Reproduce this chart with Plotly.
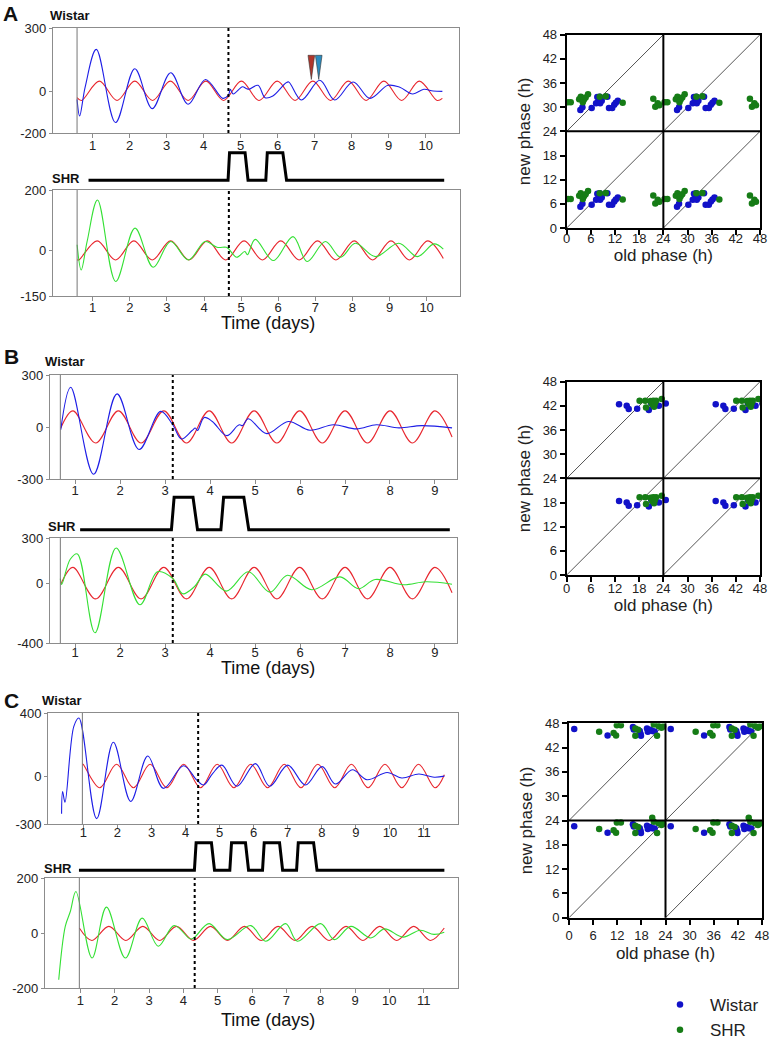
import plotly.graph_objects as go

W, H = 772, 1041
FONT = "Liberation Sans, Arial, sans-serif"
GRAY = "#8c8c8c"
BLUE_TR = "#1e1ee6"
GREEN_TR = "#34e034"
RED_FIT = "#e8262e"
WIS_DOT = "#1212c8"
SHR_DOT = "#167c16"

# ---------------- Panel A: time series ----------------
A_wis_t = [0.58, 0.65, 0.80, 1.10, 1.62, 2.14, 2.61, 3.11, 3.58, 4.05, 4.52, 4.67, 4.72, 4.80,
           5.05, 5.15, 5.22, 5.47, 5.66, 5.87, 6.22, 6.30, 6.64, 7.14, 7.54, 8.04, 8.49, 8.98,
           9.30, 9.65, 9.95, 10.20, 10.45]
A_wis_v = [-40, -119, 20, 198, -150, 106, -84, 87, -63, 55, -35, -20, 8, -14,
           20, 12, 8, 27, -32, -24, 38, 43, -43, 51, -43, 43, -35, 27,
           18, -14, 8, 0, -2]
A_fit1_t = [0.58, 0.70, 1.18, 1.66, 2.14, 2.62, 3.10, 3.58, 4.06, 4.54, 5.02, 5.50, 5.99, 6.47,
            6.95, 7.43, 7.91, 8.39, 8.87, 9.35, 9.83, 10.31, 10.45]
A_fit1_v = [-32, -45, 47, -45, 47, -45, 47, -45, 47, -45, 47, -45, 47, -45,
            47, -45, 47, -45, 47, -45, 47, -45, -35]
A_shr_t = [0.58, 0.69, 0.85, 1.13, 1.62, 2.14, 2.63, 3.10, 3.58, 4.03, 4.35, 4.60, 4.67, 4.88,
           5.10, 5.17, 5.38, 5.87, 6.40, 6.78, 7.27, 7.68, 8.08, 8.62, 9.25, 9.75, 10.20, 10.45]
A_shr_v = [19, -64, 30, 167, -102, 74, -55, 30, -31, 30, 11, 11, 5, -22,
           -3, -14, 37, -33, 46, -36, 30, -22, 24, -20, 24, -20, 22, 5]
A_fit2_t = [0.58, 0.625, 1.12, 1.615, 2.11, 2.605, 3.10, 3.595, 4.09, 4.585, 5.08, 5.575, 6.07,
            6.565, 7.06, 7.555, 8.05, 8.545, 9.04, 9.535, 10.03, 10.45]
A_fit2_v = [-30, -31, 32, -31, 32, -31, 32, -31, 32, -31, 32, -31, 32,
            -31, 32, -31, 32, -31, 32, -31, 32, -26]
A_step_t = [0.89, 4.66, 4.70, 5.12, 5.20, 5.68, 5.72, 6.14, 6.24, 10.50]
A_step_v = [0, 0, 1, 1, 0, 0, 1, 1, 0, 0]
A_start, A_shift = 0.58, 4.67
A_arrow_t = [6.91, 7.11]
A_arrow_top, A_arrow_tip = 170, 55

# ---------------- Panel B: time series ----------------
B_wis_t = [0.68, 0.90, 1.41, 1.93, 2.42, 2.90, 3.17, 3.36, 3.60, 3.67, 3.72, 3.87, 4.05, 4.37,
           4.60, 4.66, 4.72, 4.85, 5.26, 5.74, 6.22, 6.74, 7.26, 7.70, 8.20, 8.70, 9.38]
B_wis_v = [-15, 229, -273, 191, -130, 90, 13, -69, -20, -6, -20, 55, 32, -50,
           5, 13, 8, 48, -38, 32, -19, 13, -11, 13, -5, 8, -5]
B_fit1_t = [0.68, 0.95, 1.455, 1.96, 2.465, 2.97, 3.475, 3.98, 4.48, 4.98, 5.485, 5.99, 6.495,
            7.0, 7.5, 8.0, 8.5, 9.0, 9.38]
B_fit1_v = [-6, 93, -92, 93, -92, 93, -92, 93, -92, 93, -92, 93, -92,
            93, -92, 93, -92, 93, -58]
B_shr_t = [0.67, 0.70, 0.89, 1.05, 1.44, 1.91, 2.44, 2.83, 3.17, 3.39, 3.65, 3.89, 4.36, 4.85,
           5.33, 5.72, 6.26, 6.89, 7.30, 7.67, 8.30, 8.80, 9.38]
B_shr_v = [29, -9, 158, 194, -332, 233, -145, 75, 30, -72, -25, 59, -54, 75,
           -61, 52, -45, 41, -38, 23, -12, 8, -8]
B_fit2_t = B_fit1_t
B_fit2_v = [-9, 104, -106, 104, -106, 104, -106, 104, -106, 104, -106, 104, -106,
            104, -106, 104, -106, 104, -65]
B_step_t = [1.11, 3.14, 3.20, 3.62, 3.72, 4.24, 4.30, 4.75, 4.86, 9.33]
B_step_v = [0, 0, 1, 1, 0, 0, 1, 1, 0, 0]
B_start, B_shift = 0.67, 3.17

# ---------------- Panel C: time series ----------------
C_wis_t = [0.36, 0.39, 0.46, 0.72, 0.87, 1.39, 1.88, 2.39, 2.89, 3.35, 3.94, 4.33, 4.53, 4.80,
           5.07, 5.51, 6.05, 6.47, 7.00, 7.52, 8.01, 8.40, 8.90, 9.33, 9.92, 10.35, 10.85,
           11.30, 11.60]
C_wis_v = [-235, -96, -162, 316, 368, -266, 216, -158, 129, -75, 67, -23, -54, 20,
           71, -62, 81, -62, 71, -54, 62, -48, 42, -21, 25, -10, 15, -5, 2]
C_fit1_t = [0.97, 0.99, 1.48, 1.975, 2.47, 2.96, 3.45, 3.945, 4.44, 4.93, 5.42, 5.915, 6.41,
            6.90, 7.39, 7.885, 8.38, 8.87, 9.36, 9.855, 10.35, 10.84, 11.33, 11.60]
C_fit1_v = [77, 77, -71, 77, -71, 77, -71, 77, -71, 77, -71, 77, -71,
            77, -71, 77, -71, 77, -71, 77, -71, 77, -71, 11]
C_shr_t = [0.37, 0.56, 0.71, 0.87, 1.34, 1.76, 2.31, 2.80, 3.27, 3.73, 4.21, 4.33, 4.75, 5.28,
           5.96, 6.40, 6.98, 7.32, 8.00, 8.40, 8.88, 9.46, 9.86, 10.40, 10.90, 11.30, 11.60]
C_shr_v = [-170, 24, 79, 151, -91, 94, -91, 54, -48, 27, -22, -15, 34, -24,
           27, -30, 34, -30, 34, -24, 24, -18, 15, -15, 10, -5, 3]
C_fit2_t = [0.97, 1.335, 1.83, 2.325, 2.82, 3.31, 3.80, 4.295, 4.79, 5.285, 5.78, 6.27, 6.76,
            7.255, 7.75, 8.245, 8.74, 9.23, 9.72, 10.215, 10.71, 11.20, 11.60]
C_fit2_v = [18, -27, 24, -27, 24, -27, 24, -27, 24, -27, 24, -27, 24,
            -27, 24, -27, 24, -27, 24, -27, 24, -27, 18]
C_step_t = [0.87, 4.26, 4.31, 4.76, 4.85, 5.30, 5.35, 5.76, 5.85, 6.26, 6.31, 6.76, 6.85,
            7.26, 7.31, 7.76, 7.86, 11.60]
C_step_v = [0, 0, 1, 1, 0, 0, 1, 1, 0, 0, 1, 1, 0, 0, 1, 1, 0, 0]
C_start, C_shift_top, C_shift_bot = 0.97, 4.37, 4.33

# ---------------- Phase plots (old phase, new phase in h) ----------------
A_wis_old = [3.4, 3.9, 6.2, 7.3, 7.8, 8.3, 7.6, 8.2, 8.7, 10.1, 10.5, 11.3, 11.8, 12.2, 12.7]
A_wis_new = [5.3, 6.0, 5.8, 7.0, 7.3, 7.0, 8.5, 8.6, 7.6, 8.6, 5.8, 5.8, 6.6, 7.1, 7.6]
A_shr_old = [0.3, 1.0, 3.1, 3.5, 4.0, 4.3, 4.7, 5.3, 8.2, 9.7, 13.9, 21.5, 22.0, 22.6, 23.0]
A_shr_new = [7.2, 7.2, 8.0, 8.6, 7.2, 7.9, 8.4, 9.2, 8.6, 8.7, 7.1, 8.1, 6.1, 7.0, 6.5]

B_wis_old = [13.0, 14.9, 15.4, 17.5, 20.4, 21.0, 21.5, 22.9, 24.6]
B_wis_new = [18.4, 18.0, 17.2, 17.3, 17.0, 18.6, 18.0, 18.0, 18.6]
B_shr_old = [18.1, 19.5, 19.7, 20.8, 21.2, 21.5, 21.7, 22.2, 21.9, 23.6]
B_shr_new = [19.3, 19.3, 17.6, 19.2, 18.4, 19.3, 17.8, 19.3, 18.6, 19.7]

C_wis_old = [1.3, 9.6, 15.9, 16.1, 17.6, 17.8, 17.9, 19.4, 19.6, 20.2, 20.7, 21.3]
C_wis_new = [22.6, 21.0, 23.1, 22.5, 22.1, 21.4, 20.9, 22.7, 21.9, 22.4, 22.1, 22.0]
C_shr_old = [7.5, 11.1, 11.7, 11.9, 12.9, 16.5, 16.5, 17.2, 20.7, 21.1, 21.9, 22.3, 23.0, 23.4]
C_shr_new = [21.9, 21.6, 21.0, 23.5, 23.5, 22.7, 20.9, 22.4, 24.7, 23.7, 20.9, 23.3, 22.9, 23.2]

phase_ticks = [0, 6, 12, 18, 24, 30, 36, 42, 48]
diag = [0, 24]
offsets = [0, 24]


def xd(l, r):
    return [l / W, r / W]


def yd(t, b):
    return [1 - b / H, 1 - t / H]


fig = go.Figure()
layout = {}
shapes = []
annotations = []


def time_x(n, dom, rng, nt, lab_off):
    layout["xaxis" + n] = dict(domain=dom, range=rng, tickvals=list(range(1, nt + 1)),
                               ticks="outside", ticklen=4, tickwidth=1, tickcolor=GRAY,
                               showline=True, mirror=True, linecolor=GRAY, linewidth=1.3,
                               showgrid=False, zeroline=False, automargin=False,
                               ticklabeloverflow="allow", ticklabelstandoff=lab_off,
                               tickfont=dict(size=13, color="#222"), anchor="y" + n)


def time_y(n, dom, rng):
    layout["yaxis" + n] = dict(domain=dom, range=rng, tickvals=[rng[0], 0, rng[1]],
                               ticktext=[str(rng[0]), "0", str(rng[1])], ticks="outside",
                               ticklen=3, tickcolor=GRAY, showline=True, mirror=True,
                               linecolor=GRAY, linewidth=1.3, showgrid=False, zeroline=False,
                               automargin=False, ticklabeloverflow="allow",
                               tickfont=dict(size=13, color="#222"), anchor="x" + n)


def strip_axes(n, domx, domy, rng):
    layout["xaxis" + n] = dict(domain=domx, range=rng, visible=False, anchor="y" + n,
                               automargin=False)
    layout["yaxis" + n] = dict(domain=domy, range=[-0.1, 1.1], visible=False, anchor="x" + n,
                               automargin=False)


def phase_axes(n, domx, domy, lab_off):
    common = dict(range=[0, 48], tickvals=phase_ticks, ticks="outside", ticklen=5, tickwidth=2,
                  tickcolor="black", showline=True, mirror=True, linecolor="black",
                  linewidth=2, showgrid=False, zeroline=False, automargin=False,
                  ticklabeloverflow="allow", tickfont=dict(size=13, color="#222"))
    layout["xaxis" + n] = dict(domain=domx, anchor="y" + n, ticklabelstandoff=lab_off,
                               title=dict(text="old phase (h)", font=dict(size=17, color="#222"),
                                          standoff=5), **common)
    layout["yaxis" + n] = dict(domain=domy, anchor="x" + n,
                               title=dict(text="new phase (h)", font=dict(size=17, color="#222"),
                                          standoff=8), **common)
    for v in [24]:
        shapes.append(dict(type="line", xref="x" + n, yref="y" + n + " domain", x0=v, x1=v,
                           y0=0, y1=1, line=dict(color="black", width=2)))
        shapes.append(dict(type="line", xref="x" + n + " domain", yref="y" + n, x0=0, x1=1,
                           y0=v, y1=v, line=dict(color="black", width=2)))


def line(n, t, v, color, width=1.1, shape="spline"):
    fig.add_trace(go.Scatter(x=t, y=v, mode="lines", xaxis="x" + n, yaxis="y" + n,
                             line=dict(color=color, width=width, shape=shape, smoothing=1.0),
                             showlegend=False, hoverinfo="skip"))


def vlines(n, t_start, t_shift):
    shapes.append(dict(type="line", xref="x" + n, yref="y" + n + " domain", x0=t_start,
                       x1=t_start, y0=0, y1=1, line=dict(color="#777", width=1)))
    shapes.append(dict(type="line", xref="x" + n, yref="y" + n + " domain", x0=t_shift,
                       x1=t_shift, y0=0, y1=1, line=dict(color="black", width=2, dash="dot")))


def phase_points(n, wo, wn, so, sn, legend):
    for dx in offsets:
        for dy in offsets:
            fig.add_trace(go.Scatter(x=[dx + d for d in diag], y=[dy + d for d in diag],
                                     mode="lines", xaxis="x" + n, yaxis="y" + n,
                                     line=dict(color="#555", width=1), showlegend=False,
                                     hoverinfo="skip"))
    for name, o, nw, col in [("Wistar", wo, wn, WIS_DOT), ("SHR", so, sn, SHR_DOT)]:
        xs, ys = [], []
        for dx in offsets:
            for dy in offsets:
                xs += [a + dx for a in o]
                ys += [b + dy for b in nw]
        fig.add_trace(go.Scatter(x=xs, y=ys, mode="markers", xaxis="x" + n, yaxis="y" + n,
                                 marker=dict(color=col, size=6.5), name=name,
                                 showlegend=legend, cliponaxis=True))


# ---- Panel A ----
A_rng = [-0.07, 10.9]
time_x("", xd(53, 459), A_rng, 10, -4)
time_y("", yd(28, 133), [-200, 300])
line("", A_fit1_t, A_fit1_v, RED_FIT)
line("", A_wis_t, A_wis_v, BLUE_TR)
vlines("", A_start, A_shift)
strip_axes("2", xd(53, 459), yd(150, 183), A_rng)
line("2", A_step_t, A_step_v, "black", 3, "linear")
time_x("3", xd(53, 460), A_rng, 10, -5)
time_y("3", yd(190, 296), [-150, 200])
line("3", A_fit2_t, A_fit2_v, RED_FIT)
line("3", A_shr_t, A_shr_v, GREEN_TR)
vlines("3", A_start, A_shift)
phase_axes("4", xd(566.7, 760), yd(34.7, 228), -8)
phase_points("4", A_wis_old, A_wis_new, A_shr_old, A_shr_new, True)
for t, c in zip(A_arrow_t, ["#b0362c", "#2a8cc0"]):
    shapes.append(dict(type="path", xref="x", yref="y",
                       path=f"M {t-0.09},{A_arrow_top} L {t+0.09},{A_arrow_top} L {t},{A_arrow_tip} Z",
                       fillcolor=c, line=dict(color="#333", width=0.6)))

# ---- Panel B ----
B_rng = [0.44, 9.49]
time_x("5", xd(50, 457), B_rng, 9, -5)
time_y("5", yd(375, 479), [-300, 300])
line("5", B_fit1_t, B_fit1_v, RED_FIT)
line("5", B_wis_t, B_wis_v, BLUE_TR)
vlines("5", B_start, B_shift)
strip_axes("6", xd(50, 457), yd(494, 533), B_rng)
line("6", B_step_t, B_step_v, "black", 3, "linear")
time_x("7", xd(50, 457), B_rng, 9, -7)
time_y("7", yd(538, 643), [-400, 300])
line("7", B_fit2_t, B_fit2_v, RED_FIT)
line("7", B_shr_t, B_shr_v, GREEN_TR)
vlines("7", B_start, B_shift)
phase_axes("8", xd(566.7, 760), yd(381.7, 575), -5)
phase_points("8", B_wis_old, B_wis_new, B_shr_old, B_shr_new, False)

# ---- Panel C ----
C_rng = [-0.03, 12.0]
time_x("9", xd(48.3, 458), C_rng, 11, -8)
time_y("9", yd(713, 824), [-300, 400])
line("9", C_fit1_t, C_fit1_v, RED_FIT)
line("9", C_wis_t, C_wis_v, BLUE_TR)
vlines("9", C_start, C_shift_top)
strip_axes("10", xd(48.3, 458), yd(840, 873), C_rng)
line("10", C_step_t, C_step_v, "black", 3, "linear")
time_x("11", xd(45, 458), C_rng, 11, -4)
time_y("11", yd(878, 988), [-200, 200])
line("11", C_fit2_t, C_fit2_v, RED_FIT)
line("11", C_shr_t, C_shr_v, GREEN_TR)
vlines("11", C_start, C_shift_bot)
phase_axes("12", xd(569, 762), yd(723.3, 917.7), 0)
phase_points("12", C_wis_old, C_wis_new, C_shr_old, C_shr_new, False)


def label(text, x, y, size, bold=True, color="#111"):
    annotations.append(dict(text=f"<b>{text}</b>" if bold else text, x=x / W, y=1 - y / H,
                            xref="paper", yref="paper", showarrow=False,
                            font=dict(size=size, color=color), xanchor="center",
                            yanchor="middle"))


label("A", 10, 13, 21)
label("B", 11, 356, 21)
label("C", 11, 700, 21)
label("Wistar", 70, 15, 13)
label("Wistar", 65, 362, 13)
label("Wistar", 62, 700, 13)
label("SHR", 66, 179, 13)
label("SHR", 62, 526, 13)
label("SHR", 58, 868, 13)
for yy in [323, 668, 1020]:
    label("Time (days)", 268, yy, 18, bold=False)

fig.update_layout(
    width=W, height=H, margin=dict(l=0, r=0, t=0, b=0, autoexpand=False),
    paper_bgcolor="white", plot_bgcolor="white",
    font=dict(family=FONT, color="#222"),
    shapes=shapes, annotations=annotations,
    legend=dict(x=650 / W, y=1 - 987 / H, xanchor="left", yanchor="top",
                font=dict(size=17, color="#222"), bgcolor="rgba(0,0,0,0)",
                itemwidth=50, tracegroupgap=0),
    **layout,
)
fig.write_html("out.html", config={"displayModeBar": False},
               post_script="document.body.style.margin='0';document.body.style.overflow='hidden';")
